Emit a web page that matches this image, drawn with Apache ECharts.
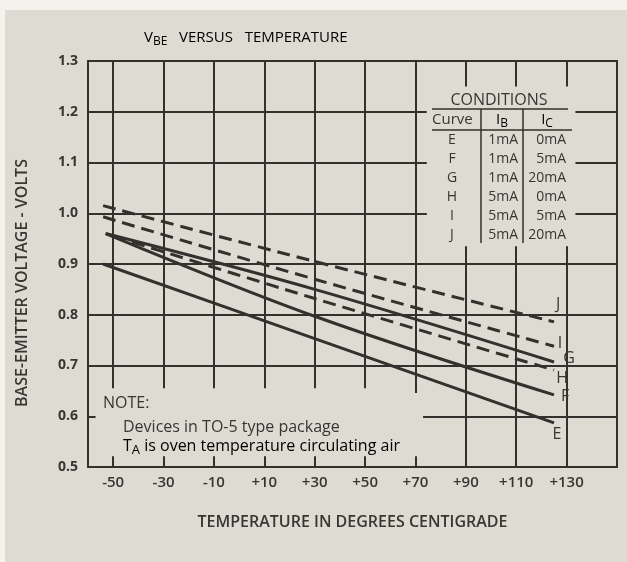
<!DOCTYPE html>
<html>
<head>
<meta charset="utf-8">
<title>VBE versus temperature</title>
<script src="https://cdn.jsdelivr.net/npm/echarts@6/dist/echarts.min.js"></script>
<style>
  html, body { margin: 0; padding: 0; background: #f4f2ed; }
  #chart { position: absolute; left: 5px; top: 10px; width: 622px; height: 552px; background: #dedbd3; }
</style>
</head>
<body>
<div id="chart"></div>
<script>
// Base-emitter voltage (volts) against oven temperature (deg C), one curve per bias condition
const curveE = [[-54, 0.900], [30, 0.753], [125, 0.587]];
const curveF = [[-53, 0.960], [30, 0.797], [125, 0.642]];
const curveG = [[-53, 0.960], [30, 0.850], [125, 0.707]];
const curveH = [[-50, 0.955], [30, 0.832], [125, 0.691]];
const curveI = [[-54, 0.993], [30, 0.870], [125, 0.738]];
const curveJ = [[-54, 1.015], [30, 0.905], [125, 0.786]];

// Bias conditions table
const curveNames = ['E', 'F', 'G', 'H', 'I', 'J'];
const baseCurrent = ['1mA', '1mA', '1mA', '5mA', '5mA', '5mA'];
const collectorCurrent = ['0mA', '5mA', '20mA', '0mA', '5mA', '20mA'];

// Labelled temperature ticks (also the vertical rulings)
const tempTicks = [-50, -30, -10, 10, 30, 50, 70, 90, 110, 130];

const noteLines = ['NOTE:', 'Devices in TO-5 type package', 'is oven temperature circulating air'];

const INK = '#33312d';
const TEXT = '#383633';
const PAPER = '#dedbd3';
const FONT = '"Open Sans", Lato, sans-serif';

// panels left clear of rulings: [tMin, tMax, vMin, vMax]
const NOTE_PANEL = [-59.3, 73, 0.521, 0.655];
const TABLE_PANEL = [74.5, 133.5, 0.935, 1.25];

const chart = echarts.init(document.getElementById('chart'), null, { renderer: 'canvas' });

// the chart div is offset by (5,10); pixel positions below are page coordinates
const OX = 5, OY = 10;
const P = (x, y) => [x - OX, y - OY];

function curve(name, data, dashed, labelOffset) {
  return {
    name, type: 'line', data, symbol: 'none', smooth: 0.35, z: 5,
    lineStyle: { color: INK, width: 3, type: dashed ? [13, 7] : 'solid', cap: 'butt' },
    endLabel: {
      show: true, formatter: name, color: TEXT, fontFamily: FONT, fontSize: 16, fontWeight: 500,
      distance: 0, align: 'center', verticalAlign: 'middle', offset: labelOffset
    },
    emphasis: { disabled: true }, silent: true
  };
}

// vertical rulings, broken where they meet the note and the table panels
function rulingSegments(t) {
  const segs = [];
  let lo = 0.5;
  const cuts = [];
  if (t > NOTE_PANEL[0] && t < NOTE_PANEL[1]) cuts.push([NOTE_PANEL[2], t > 60 ? 0.646 : NOTE_PANEL[3]]);
  if (t > TABLE_PANEL[0] && t < TABLE_PANEL[1]) cuts.push([TABLE_PANEL[2], TABLE_PANEL[3]]);
  cuts.sort((a, b) => a[0] - b[0]);
  cuts.forEach(c => { segs.push([{ coord: [t, lo] }, { coord: [t, c[0]] }]); lo = c[1]; });
  segs.push([{ coord: [t, lo] }, { coord: [t, 1.3] }]);
  return segs;
}

const graphics = [];
function text(x, y, t, opts) {
  const p = P(x, y);
  graphics.push({
    type: 'text', x: p[0], y: p[1], z: 10,
    style: Object.assign({ text: t, fill: TEXT, font: '500 14px ' + FONT, textVerticalAlign: 'middle' }, opts || {})
  });
}
function seg(x1, y1, x2, y2, w) {
  const a = P(x1, y1), b = P(x2, y2);
  graphics.push({
    type: 'line', z: 10,
    shape: { x1: a[0], y1: a[1], x2: b[0], y2: b[1] },
    style: { stroke: INK, lineWidth: w || 1.5 }
  });
}
function subText(x, y, main, sub, rest, size, align) {
  graphics.push({
    type: 'text', x: x - OX, y: y - OY, z: 10,
    style: {
      text: '{a|' + main + '}{b|' + sub + '}' + (rest ? '{a|' + rest + '}' : ''),
      textAlign: align || 'left', textVerticalAlign: 'middle',
      rich: {
        a: { fontFamily: FONT, fontSize: size, fontWeight: 500, color: TEXT },
        b: { fontFamily: FONT, fontSize: Math.round(size * 0.8), fontWeight: 500, color: TEXT, padding: [Math.round(size * 0.55), 0, 0, 0] }
      }
    }
  });
}

// title
subText(144, 38, 'V', 'BE', '   VERSUS   TEMPERATURE', 15);

// y axis title
graphics.push({
  type: 'text', x: 22 - OX, y: 283 - OY, rotation: Math.PI / 2, z: 10,
  style: { text: 'BASE-EMITTER VOLTAGE - VOLTS', fill: TEXT, font: '600 16px ' + FONT, textAlign: 'center', textVerticalAlign: 'middle' }
});

// conditions table
text(499, 100, 'CONDITIONS', { font: '500 16px ' + FONT, textAlign: 'center' });
seg(432, 109, 568, 109);
text(432, 120, 'Curve', { font: '500 15px ' + FONT });
subText(502, 120, 'I', 'B', '', 15, 'center');
subText(547, 120, 'I', 'C', '', 15, 'center');
seg(432, 130, 572, 130);
seg(481, 109, 481, 243);
seg(523, 109, 523, 243);
curveNames.forEach((c, i) => {
  const y = 140 + i * 19;
  text(452, y, c, { textAlign: 'center' });
  text(518, y, baseCurrent[i], { textAlign: 'right' });
  text(566, y, collectorCurrent[i], { textAlign: 'right' });
});

// note
text(103, 403, noteLines[0], { font: '500 16px ' + FONT });
text(123, 427, noteLines[1], { font: '500 16px ' + FONT });
subText(123, 446, 'T', 'A', ' ' + noteLines[2], 16);

const fmtTemp = v => (v > 0 ? '+' + v : String(v));

chart.setOption({
  backgroundColor: PAPER,
  animation: false,
  grid: { left: 88 - OX, right: 10, top: 61 - OY, bottom: 562 - 467, show: true, borderColor: INK, borderWidth: 2, backgroundColor: 'transparent' },
  xAxis: {
    type: 'value', min: -60, max: 150, interval: 10,
    axisLine: { show: false }, axisTick: { show: false }, splitLine: { show: false },
    axisLabel: {
      color: TEXT, fontFamily: FONT, fontSize: 15, fontWeight: 600, margin: 8,
      formatter: v => (tempTicks.indexOf(v) >= 0 ? fmtTemp(v) : '')
    },
    name: 'TEMPERATURE IN DEGREES CENTIGRADE', nameLocation: 'middle', nameGap: 47,
    nameTextStyle: { color: TEXT, fontFamily: FONT, fontSize: 16, fontWeight: 600 }
  },
  yAxis: {
    type: 'value', min: 0.5, max: 1.3, interval: 0.1,
    axisLine: { show: false }, axisTick: { show: false },
    splitLine: { show: true, lineStyle: { color: INK, width: 2 } },
    axisLabel: { color: TEXT, fontFamily: FONT, fontSize: 14, fontWeight: 'bold', margin: 10, formatter: v => v.toFixed(1) }
  },
  series: [
    {
      // clear panels for the note and the conditions table (hide the horizontal rulings there)
      type: 'line', data: [], z: 2, silent: true,
      markArea: {
        silent: true, itemStyle: { color: PAPER, opacity: 1 },
        data: [NOTE_PANEL, TABLE_PANEL].map(p => [{ coord: [p[0], p[3]] }, { coord: [p[1], p[2]] }])
      }
    },
    {
      // vertical rulings and the short stub of the 0.6 ruling at the left edge
      type: 'line', data: [], z: 3, silent: true,
      markLine: {
        silent: true, symbol: 'none', label: { show: false },
        lineStyle: { type: 'solid', color: INK, width: 2 },
        data: tempTicks.flatMap(rulingSegments).concat([[{ coord: [-60, 0.6] }, { coord: [-57, 0.6] }]])
      }
    },
    curve('E', curveE, false, [3, 12]),
    curve('F', curveF, false, [11, 2]),
    curve('G', curveG, false, [15, -4]),
    curve('H', curveH, true, [8, 8]),
    curve('I', curveI, true, [6, -3]),
    curve('J', curveJ, true, [4, -17])
  ],
  graphic: graphics
});
</script>
</body>
</html>
